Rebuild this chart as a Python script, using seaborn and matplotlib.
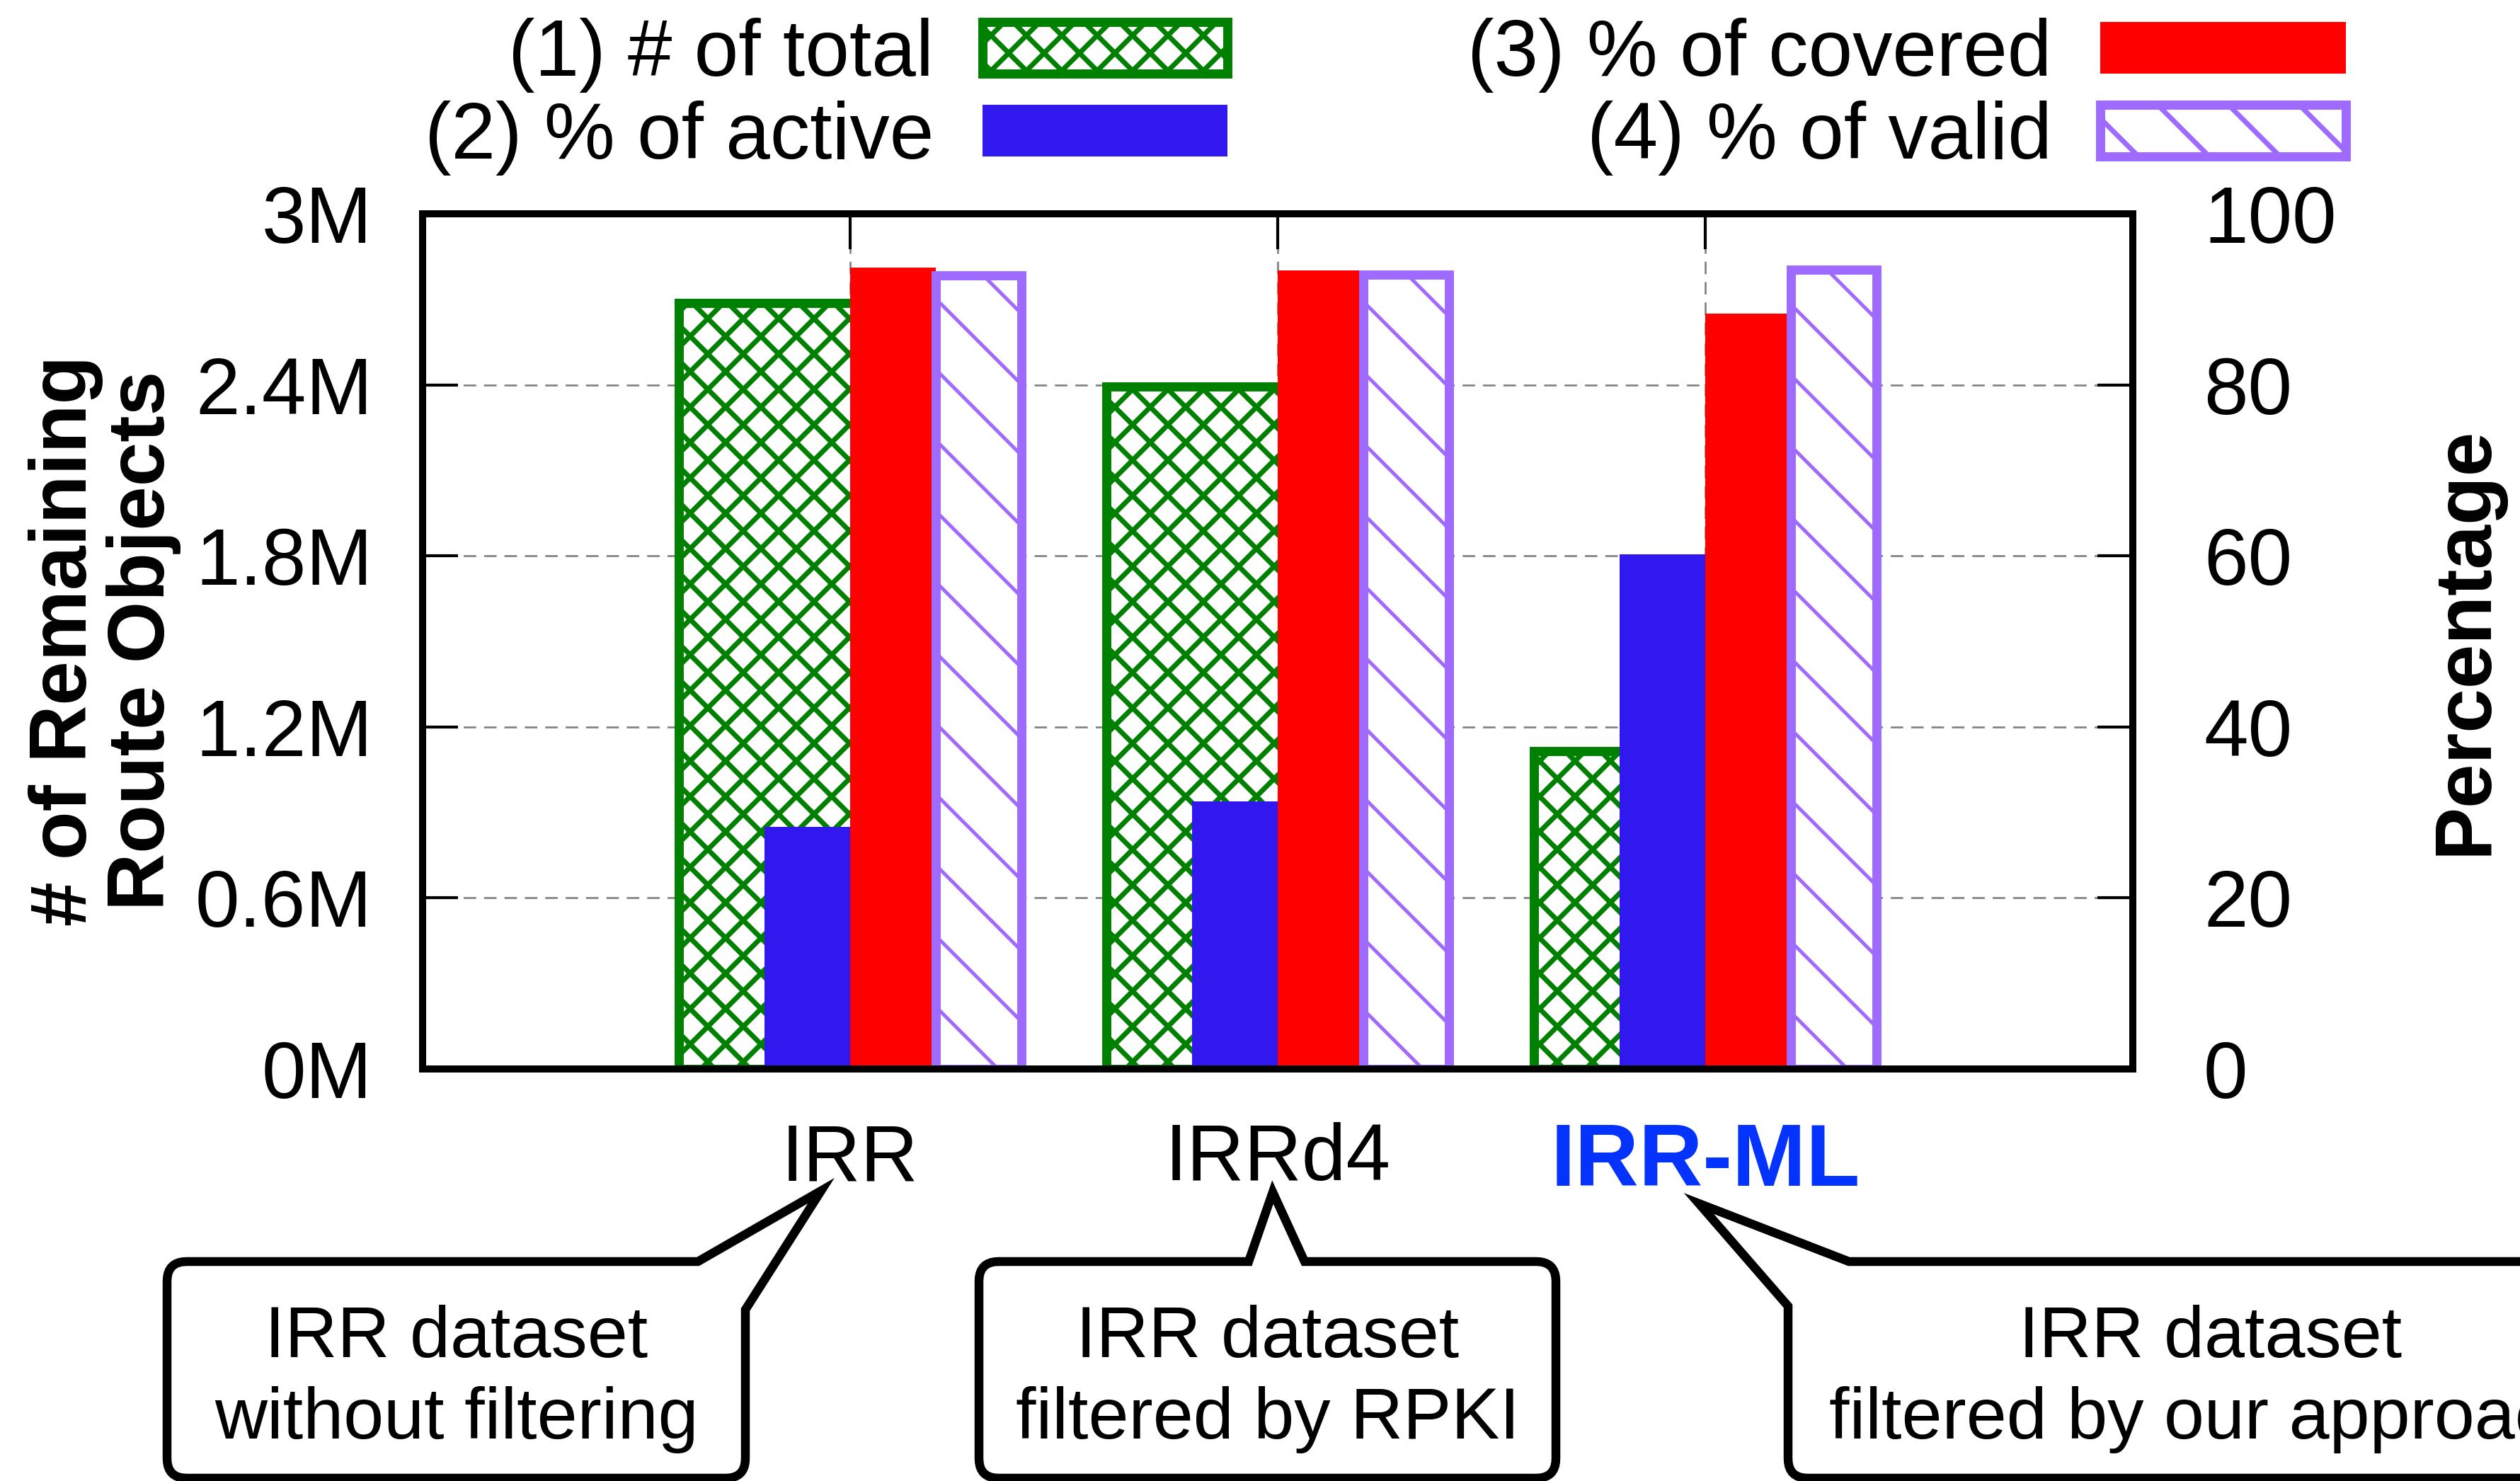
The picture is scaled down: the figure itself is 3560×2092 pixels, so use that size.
import numpy as np
import pandas as pd
import matplotlib
matplotlib.use("Agg")
import matplotlib.pyplot as plt
import matplotlib.colors as mcolors
from matplotlib.patches import Polygon, Patch
from matplotlib.transforms import Affine2D
import seaborn as sns

# ---------------- data ----------------
datasets = ["IRR", "IRRd4", "IRR-ML"]
series = ["(1) # of total", "(2) % of active", "(3) % of covered", "(4) % of valid"]
total_objects = [2.687e6, 2.395e6, 1.116e6]      # left axis (count)
pct_active = [28.3, 31.3, 60.2]                   # right axis (%)
pct_covered = [93.7, 93.4, 88.3]
pct_valid = [92.8, 92.85, 93.5]
left_ticks = [0, 0.6e6, 1.2e6, 1.8e6, 2.4e6, 3.0e6]
left_ticklabels = ["0M", "0.6M", "1.2M", "1.8M", "2.4M", "3M"]
right_ticks = [0, 20, 40, 60, 80, 100]
right_ticklabels = ["0", "20", "40", "60", "80", "100"]
callout_texts = ["IRR dataset\nwithout filtering",
                 "IRR dataset\nfiltered by RPKI",
                 "IRR dataset\nfiltered by our approach"]

# ---------------- style ----------------
W, H, DPI = 3560, 2092, 600
GREEN, BLUE, RED, PURPLE = "#008000", "#3118EF", "#FF0000", "#9E6AFF"
palette = dict(zip(series, [GREEN, BLUE, RED, PURPLE]))
FS = 13.5
HATCH_TOTAL, HATCH_VALID = "xxxx", "\\\\"
HLW_TOTAL, HLW_VALID = 0.85, 0.6

plt.rcParams["font.family"] = ["Liberation Sans", "DejaVu Sans"]
plt.rcParams["hatch.linewidth"] = HLW_TOTAL

fig = plt.figure(figsize=(W / DPI, H / DPI), dpi=DPI)
ax = fig.add_axes([597 / W, 1 - 1510 / H, (3013 - 597) / W, 1208 / H])
ax2 = ax.twinx()

df_left = pd.DataFrame({"dataset": datasets, "series": series[0], "value": total_objects})
df_right = pd.concat([
    pd.DataFrame({"dataset": datasets, "series": s, "value": v})
    for s, v in zip(series[1:], [pct_active, pct_covered, pct_valid])
], ignore_index=True)

common = dict(x="dataset", y="value", hue="series", hue_order=series, order=datasets,
              palette=palette, width=0.8, saturation=1, errorbar=None, legend=False)
sns.barplot(data=df_left, ax=ax, **common)
sns.barplot(data=df_right, ax=ax2, **common)


def set_hlw(p, lw):
    if hasattr(p, "set_hatch_linewidth"):
        try:
            p.set_hatch_linewidth(lw)
        except Exception:
            pass


hex2series = {mcolors.to_hex(c): s for s, c in palette.items()}
for a in (ax, ax2):
    for p in a.patches:
        s = hex2series.get(mcolors.to_hex(p.get_facecolor()))
        if s == series[0]:
            p.set_facecolor("white"); p.set_edgecolor(GREEN); p.set_hatch(HATCH_TOTAL); p.set_linewidth(1.55)
            set_hlw(p, HLW_TOTAL)
        elif s == series[3]:
            p.set_facecolor("white"); p.set_edgecolor(PURPLE); p.set_hatch(HATCH_VALID); p.set_linewidth(1.55)
            set_hlw(p, HLW_VALID)
        else:
            p.set_edgecolor("none"); p.set_linewidth(0)

# ---------------- axes ----------------
ax.set_xlim(-1, 3)
ax.set_ylim(0, 3.0e6)
ax2.set_ylim(0, 100)
ax.set_xticks(range(len(datasets)), datasets)
ax.set_yticks(left_ticks, left_ticklabels)
ax2.set_yticks(right_ticks, right_ticklabels)
ax.set_xlabel(""); ax.set_ylabel(""); ax2.set_ylabel("")

ax.tick_params(axis="y", direction="in", length=6, width=0.5, labelsize=FS, pad=8.5,
               left=True, right=False)
ax.tick_params(axis="x", direction="in", length=6, width=0.5, labelsize=FS, pad=9,
               top=True, bottom=True)
ax2.tick_params(axis="y", direction="in", length=6, width=0.5, labelsize=FS, pad=12)

for lab in ax.get_xticklabels():
    if lab.get_text() == "IRR-ML":
        lab.set_color("#0433FF"); lab.set_fontweight("bold"); lab.set_fontsize(15)

ax.set_axisbelow(True)
ax.grid(True, axis="both", color="#808080", linestyle=(0, (6.6, 4.2)), linewidth=0.32)
for a in (ax, ax2):
    for sp in a.spines.values():
        sp.set_linewidth(1.2)
        sp.set_color("black")

# pixel-space transform (y measured downward from top)
pxT = Affine2D().scale(1 / W, -1 / H).translate(0, 1) + fig.transFigure

fig.text(148, 905, "# of Remaining\nRoute Objects", transform=pxT, rotation=90,
         ha="center", va="center", fontsize=FS, fontweight="bold", linespacing=1.05)
fig.text(3484, 905, "Percentage", transform=pxT, rotation=90,
         ha="center", va="center", fontsize=FS, fontweight="bold")

# ---------------- legend ----------------
handles = [
    Patch(facecolor="white", edgecolor=GREEN, hatch=HATCH_TOTAL, linewidth=1.55),
    Patch(facecolor=BLUE, edgecolor="none"),
    Patch(facecolor=RED, edgecolor="none"),
    Patch(facecolor="white", edgecolor=PURPLE, hatch=HATCH_VALID, linewidth=1.55),
]
set_hlw(handles[0], HLW_TOTAL)
set_hlw(handles[3], HLW_VALID)
fig.legend(handles, series, ncol=2, markerfirst=False, loc="upper left",
           bbox_to_anchor=(600 / W, 1 - 25 / H), frameon=False, fontsize=FS,
           handlelength=3.08, handleheight=0.62, handletextpad=0.61,
           columnspacing=3.01, labelspacing=0.1, borderpad=0, borderaxespad=0)

# ---------------- callouts ----------------
def outline(points, r=28, n=10):
    pts = []
    m = len(points)
    for i, (kind, x, y) in enumerate(points):
        if kind == "p":
            pts.append((x, y))
            continue
        _, px0, py0 = points[i - 1]
        _, nx0, ny0 = points[(i + 1) % m]
        P = np.array([x, y], float)
        A = P + r * (np.array([px0, py0]) - P) / np.hypot(px0 - x, py0 - y)
        C = P + r * (np.array([nx0, ny0]) - P) / np.hypot(nx0 - x, ny0 - y)
        for t in np.linspace(0, 1, n):
            pts.append(tuple((1 - t) ** 2 * A + 2 * (1 - t) * t * P + t ** 2 * C))
    return pts

BT, BB = 1782, 2088
shapes = [
    [("c", 236, BT), ("p", 986, BT), ("p", 1160, 1682), ("p", 1053, 1850),
     ("c", 1053, BB), ("c", 236, BB)],
    [("c", 1383, BT), ("p", 1764, BT), ("p", 1798, 1684), ("p", 1843, BT),
     ("c", 2198, BT), ("c", 2198, BB), ("c", 1383, BB)],
    [("p", 2526, 1845), ("p", 2400, 1700), ("p", 2612, BT), ("c", 3720, BT),
     ("c", 3720, BB), ("c", 2526, BB)],
]
text_x = [645, 1791, 3123]
for shp, tx, txt in zip(shapes, text_x, callout_texts):
    poly = Polygon(outline(shp), closed=True, facecolor="white", edgecolor="black",
                   linewidth=1.5, joinstyle="miter", transform=pxT)
    fig.add_artist(poly)
    fig.text(tx, 1948, txt, transform=pxT, ha="center", va="center",
             fontsize=12.3, linespacing=1.28, zorder=5)

fig.savefig("out.png", dpi=DPI)
